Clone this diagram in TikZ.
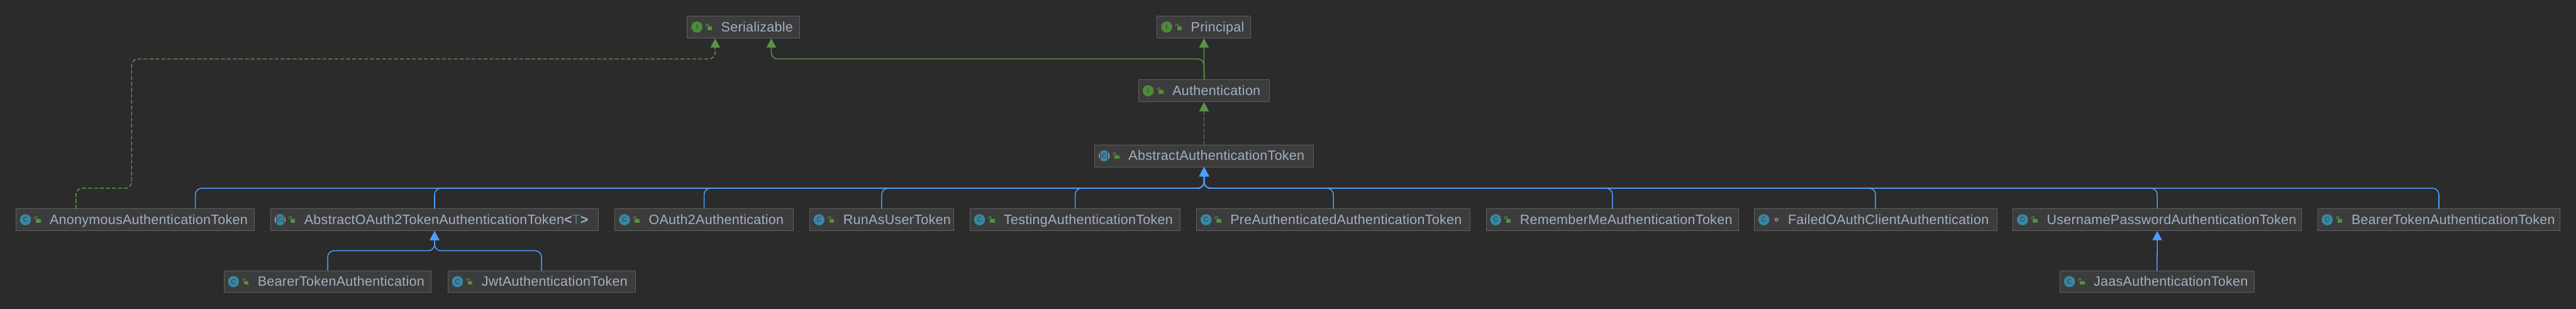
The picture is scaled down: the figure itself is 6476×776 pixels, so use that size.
\documentclass[tikz,border=0pt]{standalone}
\usepackage{fontspec}
\setmainfont[LetterSpace=1.3]{Liberation Sans}
\usetikzlibrary{arrows.meta,calc}
\definecolor{bgc}{HTML}{2B2B2B}
\definecolor{boxc}{HTML}{3C3C3C}
\definecolor{edgec}{HTML}{5F5F5F}
\definecolor{divc}{HTML}{383838}
\definecolor{txtc}{HTML}{A3B0C2}
\definecolor{bluec}{HTML}{4F9BFA}
\definecolor{greenc}{HTML}{5B9248}
\definecolor{iconi}{HTML}{4E8A3A}
\definecolor{iconc}{HTML}{3B86A3}
\definecolor{lockc}{HTML}{54903F}
\definecolor{grayc}{HTML}{8F9499}
\definecolor{tparam}{HTML}{4E7F78}
\definecolor{glyphc}{HTML}{2C3E46}
\tikzset{
  x=1pt,y=-1pt,
  umlbox/.style={draw=edgec,fill=boxc,line width=1.5pt,inner sep=0pt,outer sep=0pt,
    minimum height=55pt,anchor=north west,text=txtc,text height=30pt,text depth=7pt,
    font=\fontsize{34}{36}\selectfont},
  glyph/.style={inner sep=0pt,text=glyphc,font=\fontsize{17}{18}\selectfont},
  inh/.style={line width=2.4pt,rounded corners=16pt,shorten >=1pt},
  blueinh/.style={inh,draw=bluec,-{Triangle[length=23pt,width=24pt,color=bluec]}},
  greeninh/.style={inh,draw=greenc,-{Triangle[length=23pt,width=24pt,color=greenc]}},
  greendash/.style={greeninh,dash pattern=on 10pt off 5pt},
}
% \umlnode{name}{left}{right}{top}{icon}{lock}{text}
\newcommand\umlnode[7]{%
  \pgfmathsetlengthmacro{\boxw}{#3-#2}%
  \pgfmathsetlengthmacro{\textw}{#3-#2-85}%
  \node[umlbox,minimum width=\boxw] (#1) at (#2,#4) {\hspace*{85pt}\makebox[\textw][l]{#7}};
  \draw[divc,line width=1pt] (#2+76,#4+1) -- (#2+76,#4+54);
  #5{#1}{#2}{#4}%
  #6{#2}{#4}%
}
\newcommand\iconclass[3]{\fill[iconc] (#2+24,#3+27.5) circle[radius=14pt];
  \node[glyph] (#1-glyph) at (#2+24,#3+27.5) {C};}
\newcommand\iconiface[3]{\fill[iconi] (#2+24,#3+27.5) circle[radius=14pt];
  \node[glyph] (#1-glyph) at (#2+24,#3+27.5) {I};}
\newcommand\iconabs[3]{\fill[grayc] (#2+24,#3+27.5) circle[radius=14pt];
  \begin{scope}
    \clip (#2+24,#3+27.5) circle[radius=14pt];
    \fill[bgc] (#2+14,#3+10) rectangle (#2+34,#3+46);
    \fill[iconc] (#2+15.5,#3+10) rectangle (#2+32.5,#3+46);
  \end{scope}
  \node[glyph] (#1-glyph) at (#2+24,#3+27.5) {C};}
\newcommand\lockopen[2]{\fill[lockc] (#1+50,#2+26) rectangle (#1+62,#2+35);
  \draw[lockc,line width=1.8pt] (#1+47,#2+26) -- (#1+47,#2+23) arc[start angle=180,end angle=0,radius=3.2pt] -- (#1+53.4,#2+26);}
\newcommand\lockpriv[2]{\draw[grayc,line width=2.4pt] (#1+56,#2+27.5) circle[radius=3.6pt];}
\begin{document}
\begin{tikzpicture}
\useasboundingbox (0,0) rectangle (6476,776);
\fill[bgc] (0,0) rectangle (6476,776);
\coordinate (bustop) at (0,148);
\coordinate (busmain) at (0,473);
\coordinate (buslow) at (0,630);
\coordinate (anonrise) at (331,0);

\umlnode{serial}{1728}{2010}{40.5}{\iconiface}{\lockopen}{Serializable}
\umlnode{principal}{2909}{3144}{40.5}{\iconiface}{\lockopen}{Principal}
\umlnode{auth}{2862.5}{3191.5}{200.5}{\iconiface}{\lockopen}{Authentication}
\umlnode{abstract}{2752}{3302}{364}{\iconabs}{\lockopen}{AbstractAuthenticationToken}
\umlnode{anon}{40}{640}{524.5}{\iconclass}{\lockopen}{AnonymousAuthenticationToken}
\umlnode{oauthtoken}{680}{1505}{524.5}{\iconabs}{\lockopen}{AbstractOAuth2TokenAuthenticationToken{\bfseries <}{\color{tparam}T}{\bfseries >}}
\umlnode{oauth}{1546}{1994}{524.5}{\iconclass}{\lockopen}{OAuth2Authentication}
\umlnode{runas}{2035}{2398}{524.5}{\iconclass}{\lockopen}{RunAsUserToken}
\umlnode{testing}{2438.5}{2967.5}{524.5}{\iconclass}{\lockopen}{TestingAuthenticationToken}
\umlnode{preauth}{3008}{3696}{524.5}{\iconclass}{\lockopen}{PreAuthenticatedAuthenticationToken}
\umlnode{remember}{3736}{4371}{524.5}{\iconclass}{\lockopen}{RememberMeAuthenticationToken}
\umlnode{failed}{4410}{5020}{524.5}{\iconclass}{\lockpriv}{FailedOAuthClientAuthentication}
\umlnode{userpass}{5060.5}{5786}{524.5}{\iconclass}{\lockopen}{UsernamePasswordAuthenticationToken}
\umlnode{bearertok}{5826.5}{6436}{524.5}{\iconclass}{\lockopen}{BearerTokenAuthenticationToken}
\umlnode{bearer}{563}{1084.5}{680}{\iconclass}{\lockopen}{BearerTokenAuthentication}
\umlnode{jwt}{1126}{1597}{680}{\iconclass}{\lockopen}{JwtAuthenticationToken}
\umlnode{jaas}{5178.5}{5667}{680}{\iconclass}{\lockopen}{JaasAuthenticationToken}

\draw[greeninh] (auth.north) -- (principal.south);
\draw[greendash] (abstract.north) -- (auth.south);
\draw[greeninh] (auth.north) -- (auth.north |- bustop) -- ($(serial.south |- bustop)+(70,0)$) -- ($(serial.south)+(70,0)$);
\draw[greendash] ($(anon.north)+(-149,0)$) -- ($(anon.north |- busmain)+(-149,0)$) -- (anonrise |- busmain) -- (anonrise |- bustop) -- ($(serial.south |- bustop)+(-71,0)$) -- ($(serial.south)+(-71,0)$);
\draw[blueinh] ($(anon.north)+(151,0)$) -- ($(anon.north |- busmain)+(151,0)$) -- (abstract.south |- busmain) -- (abstract.south);
\foreach \kid in {oauthtoken,oauth,runas,testing,preauth,remember,failed,userpass,bearertok}
  \draw[blueinh] (\kid.north) -- (\kid.north |- busmain) -- (abstract.south |- busmain) -- (abstract.south);
\foreach \kid in {bearer,jwt}
  \draw[blueinh] (\kid.north) -- (\kid.north |- buslow) -- (oauthtoken.south |- buslow) -- (oauthtoken.south);
\draw[blueinh] (jaas.north) -- (userpass.south);
\end{tikzpicture}
\end{document}
